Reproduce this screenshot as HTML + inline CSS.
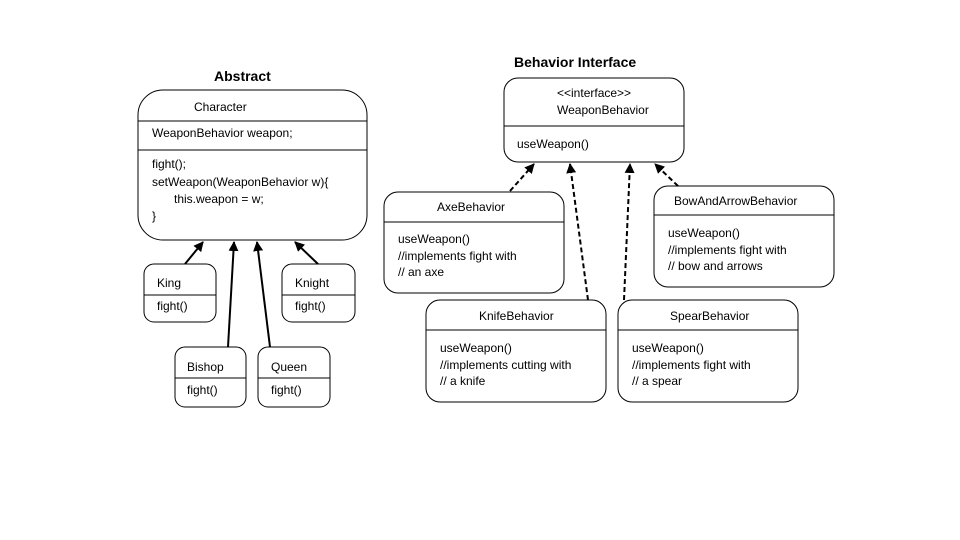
<!DOCTYPE html>
<html><head><meta charset="utf-8"><style>
html,body{margin:0;padding:0;background:#fff}
svg{display:block}
text{font-family:"Liberation Sans",sans-serif;font-size:12px;fill:#000}
.t{font-weight:bold;font-size:14px}
</style></head><body>
<svg width="960" height="540" viewBox="0 0 960 540" xmlns="http://www.w3.org/2000/svg">
<defs>
<marker id="a" viewBox="0 0 10 10" refX="9" refY="5" markerWidth="5" markerHeight="5" orient="auto"><path d="M0,0 L10,5 L0,10 z" fill="#000"/></marker>
</defs>
<g fill="none" stroke="#000" stroke-width="1">
<rect x="138" y="90" width="229" height="150" rx="25"/>
<line x1="138" y1="121" x2="367" y2="121"/><line x1="138" y1="150" x2="367" y2="150"/>
<rect x="144" y="264" width="72" height="58" rx="10"/><line x1="144" y1="295" x2="216" y2="295"/>
<rect x="282" y="264" width="73" height="58" rx="10"/><line x1="282" y1="295" x2="355" y2="295"/>
<rect x="175" y="347" width="71" height="60" rx="10"/><line x1="175" y1="378" x2="246" y2="378"/>
<rect x="258" y="347" width="72" height="60" rx="10"/><line x1="258" y1="378" x2="330" y2="378"/>
<rect x="504" y="78" width="180" height="84" rx="14"/><line x1="504" y1="126" x2="684" y2="126"/>
<rect x="384" y="192" width="180" height="101" rx="14"/><line x1="384" y1="222" x2="564" y2="222"/>
<rect x="654" y="186" width="180" height="101" rx="14"/><line x1="654" y1="215" x2="834" y2="215"/>
<rect x="426" y="300" width="180" height="102" rx="14"/><line x1="426" y1="330" x2="606" y2="330"/>
<rect x="618" y="300" width="180" height="102" rx="14"/><line x1="618" y1="330" x2="798" y2="330"/>
</g>
<g stroke="#000" stroke-width="2" fill="none" marker-end="url(#a)">
<line x1="185" y1="264" x2="203" y2="242"/>
<line x1="228" y1="347" x2="234" y2="242"/>
<line x1="270" y1="347" x2="257" y2="242"/>
<line x1="318" y1="264" x2="295" y2="242"/>
</g>
<g stroke="#000" stroke-width="2" fill="none" stroke-dasharray="5,3" marker-end="url(#a)">
<line x1="510" y1="191" x2="534" y2="164"/>
<line x1="588" y1="300" x2="570" y2="164"/>
<line x1="624" y1="300" x2="630" y2="164"/>
<line x1="678" y1="186" x2="655" y2="164"/>
</g>
<text class="t" x="214" y="81">Abstract</text>
<text class="t" x="514" y="67">Behavior Interface</text>
<text x="194" y="111">Character</text>
<text x="152" y="137">WeaponBehavior weapon;</text>
<text x="152" y="168">fight();</text>
<text x="152" y="186">setWeapon(WeaponBehavior w){</text>
<text x="174" y="203">this.weapon = w;</text>
<text x="152" y="220">}</text>
<text x="157" y="287">King</text><text x="157" y="310">fight()</text>
<text x="295" y="287">Knight</text><text x="295" y="310">fight()</text>
<text x="187" y="371">Bishop</text><text x="187" y="394">fight()</text>
<text x="271" y="371">Queen</text><text x="271" y="394">fight()</text>
<text x="557" y="97">&lt;&lt;interface&gt;&gt;</text>
<text x="557" y="114">WeaponBehavior</text>
<text x="517" y="148">useWeapon()</text>
<text x="437" y="211">AxeBehavior</text>
<text x="398" y="243">useWeapon()</text>
<text x="398" y="260">//implements fight  with</text>
<text x="398" y="276">// an axe</text>
<text x="674" y="205">BowAndArrowBehavior</text>
<text x="668" y="237">useWeapon()</text>
<text x="668" y="254">//implements fight with</text>
<text x="668" y="270">// bow and arrows</text>
<text x="479" y="320">KnifeBehavior</text>
<text x="440" y="352">useWeapon()</text>
<text x="440" y="369">//implements cutting with</text>
<text x="440" y="385">// a knife</text>
<text x="670" y="320">SpearBehavior</text>
<text x="632" y="352">useWeapon()</text>
<text x="632" y="369">//implements fight  with</text>
<text x="632" y="385">// a spear</text>
</svg>
</body></html>
